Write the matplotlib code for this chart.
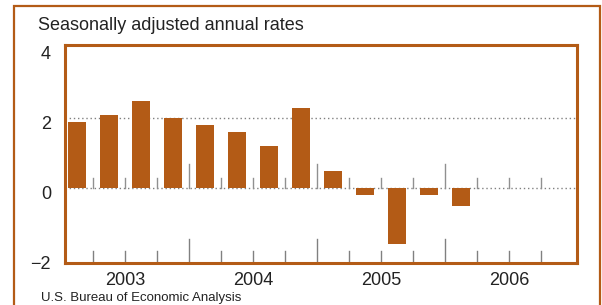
import matplotlib
matplotlib.use("Agg")
import matplotlib.pyplot as plt
import matplotlib.patches as mpatches
import matplotlib.transforms as mtransforms

plt.rcParams['font.family'] = ['Liberation Sans', 'DejaVu Sans']

# Data: quarterly values, 2003Q1 .. 2006Q1
quarters = ["2003Q1", "2003Q2", "2003Q3", "2003Q4",
            "2004Q1", "2004Q2", "2004Q3", "2004Q4",
            "2005Q1", "2005Q2", "2005Q3", "2005Q4",
            "2006Q1"]
values = [1.9, 2.1, 2.5, 2.0, 1.8, 1.6, 1.2, 2.3, 0.5, -0.2, -1.6, -0.2, -0.5]
years = ["2003", "2004", "2005", "2006"]
n_quarters_total = 16
ytick_vals = [-2, 0, 2, 4]
ytick_labels = ["\u22122", "0", "2", "4"]

ORANGE = "#B35B16"
GRAY = "#808080"
TXT = "#222222"

W, H = 602, 305
fig = plt.figure(figsize=(W / 100, H / 100), dpi=100)
ax = fig.add_axes([65 / W, 1 - 263 / H, (577 - 65) / W, (263 - 45) / H])

x = list(range(len(values)))
ax.bar(x, values, width=0.56, color=ORANGE, edgecolor="none", zorder=3)

ax.set_xlim(-0.375, 15.625)
ax.set_ylim(-2.14, 4.086)

# dotted reference lines
for yv in [0, 2]:
    ax.axhline(yv, color=GRAY, lw=1.0, linestyle=(0, (1, 2)), zorder=1)

# tick marks drawn inside: at bottom and along zero line
px_per_unit = 35.0
for i in range(1, n_quarters_total):
    b = i - 0.5
    is_year = (i % 4 == 0)
    L = 24 if is_year else 12
    ax.plot([b, b], [-2.14, -2.14 + L / px_per_unit], color=GRAY, lw=1.0, zorder=2, clip_on=False)
    L0 = 24 if is_year else 10
    ax.plot([b, b], [0, L0 / px_per_unit], color="#909090", lw=1.0, zorder=2)

# year labels
for k, yr in enumerate(years):
    ax.text(4 * k + 1.5, -0.101, yr, transform=ax.get_xaxis_transform(),
            ha="center", va="baseline", fontsize=13, color=TXT)

ax.set_xticks([])
ax.set_yticks(ytick_vals)
ax.set_yticklabels(ytick_labels, fontsize=13, color=TXT)
ax.tick_params(axis="y", length=0, pad=10)
offset = mtransforms.ScaledTranslation(0, -4.5 / 100, fig.dpi_scale_trans)
for lab in ax.get_yticklabels():
    lab.set_transform(lab.get_transform() + offset)

for s in ax.spines.values():
    s.set_color(ORANGE)
    s.set_linewidth(2.2)

# outer frame
frame = mpatches.Rectangle((14 / W, -0.05), (600 - 14) / W, 1 - 6 / H + 0.05,
                           transform=fig.transFigure, fill=False,
                           edgecolor=ORANGE, lw=1.6, clip_on=False)
fig.patches.append(frame)

fig.text(38 / W, 1 - 25 / H, "Seasonally adjusted annual rates", ha="left", va="center",
         fontsize=13, color=TXT)
fig.text(41 / W, 1 - 297.5 / H, "U.S. Bureau of Economic Analysis", ha="left", va="center",
         fontsize=9.5, color=TXT)

fig.savefig("out.png", dpi=100)
